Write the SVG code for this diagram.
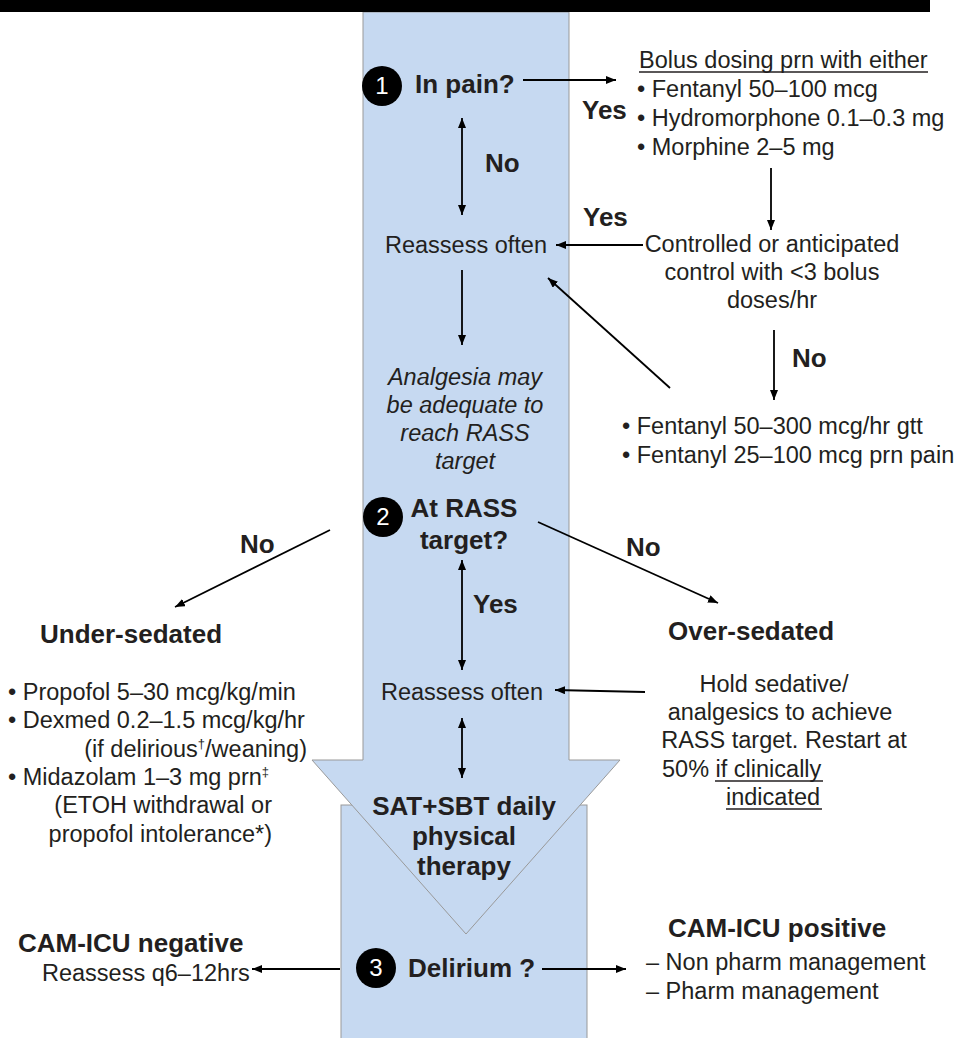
<svg xmlns="http://www.w3.org/2000/svg" width="960" height="1038" viewBox="0 0 960 1038">
<defs>
<marker id="ah" viewBox="0 0 10 8" refX="10" refY="4" markerWidth="10" markerHeight="8" markerUnits="userSpaceOnUse" orient="auto-start-reverse"><path d="M0,0 L10,4 L0,8 z" fill="#000"/></marker>
<style>
text{font-family:"Liberation Sans",Arial,sans-serif;fill:#231f20}
.r{font-size:23.5px}
.b{font-size:26px;font-weight:bold}
.i{font-size:23.5px;font-style:italic}
.m{text-anchor:middle}
.e{text-anchor:end}
.n{fill:#fff;font-size:24px;text-anchor:middle}
.c{stroke:#000;stroke-width:1.8;fill:none;marker-end:url(#ah)}
.d{marker-start:url(#ah)}
.ul{stroke:#231f20;stroke-width:1.3}
.shape{fill:#c6d9f1;stroke:#999;stroke-width:1}
.sup{font-size:13px}
</style>
</defs>
<g id="flow-arrow">
<rect class="shape" x="341" y="805" width="246" height="240"/>
<polygon class="shape" points="363,12 569,12 569,760 620,760 466,934 312,760 363,760"/>
</g>
<rect id="top-bar" x="0" y="0" width="930" height="12" fill="#000"/>
<g id="connectors">
<path class="c" d="M523,80 H616"/>
<path class="c d" d="M462,118 V215"/>
<path class="c" d="M771,168 V230"/>
<path class="c" d="M643,245 H556"/>
<path class="c" d="M670,388 L548,278"/>
<path class="c" d="M462,270 V345"/>
<path class="c" d="M774,330 V400"/>
<path class="c" d="M330,530 L175,607"/>
<path class="c" d="M538,522 L718,603"/>
<path class="c d" d="M462,560 V670"/>
<path class="c" d="M645,692 L555,690"/>
<path class="c d" d="M462,718 V778"/>
<path class="c" d="M340,969 H252"/>
<path class="c" d="M542,969 H626"/>
</g>
<g id="labels">
<text class="b" x="582" y="119">Yes</text>
<text class="b" x="485" y="172">No</text>
<text class="b" x="583" y="226">Yes</text>
<text class="b" x="792" y="367">No</text>
<text class="b" x="240" y="553">No</text>
<text class="b" x="626" y="556">No</text>
<text class="b" x="473" y="613">Yes</text>
</g>
<g id="node-pain">
<circle cx="382" cy="86" r="20" fill="#000"/>
<text class="n" x="382" y="94">1</text>
<text class="b" x="415" y="93">In pain?</text>
</g>
<g id="node-bolus">
<text class="r" x="639" y="68">Bolus dosing prn with either</text>
<line class="ul" x1="639" y1="72" x2="928" y2="72"/>
<text class="r" x="637" y="97">• Fentanyl 50–100 mcg</text>
<text class="r" x="637" y="126">• Hydromorphone 0.1–0.3 mg</text>
<text class="r" x="637" y="155">• Morphine 2–5 mg</text>
</g>
<g id="node-reassess1">
<text class="r m" x="466" y="253">Reassess often</text>
</g>
<g id="node-controlled">
<text class="r m" x="772" y="252">Controlled or anticipated</text>
<text class="r m" x="772" y="280">control with &lt;3 bolus</text>
<text class="r m" x="772" y="308">doses/hr</text>
</g>
<g id="node-analgesia">
<text class="i m" x="465" y="385">Analgesia may</text>
<text class="i m" x="465" y="413">be adequate to</text>
<text class="i m" x="465" y="441">reach RASS</text>
<text class="i m" x="465" y="469">target</text>
</g>
<g id="node-fentanyl-gtt">
<text class="r" x="622" y="434">• Fentanyl 50–300 mcg/hr gtt</text>
<text class="r" x="622" y="463">• Fentanyl 25–100 mcg prn pain</text>
</g>
<g id="node-rass">
<circle cx="383" cy="517" r="20" fill="#000"/>
<text class="n" x="383" y="525">2</text>
<text class="b m" x="464" y="517">At RASS</text>
<text class="b m" x="464" y="549">target?</text>
</g>
<g id="node-under">
<text class="b" x="40" y="643">Under-sedated</text>
<text class="r" x="8" y="700">• Propofol 5–30 mcg/kg/min</text>
<text class="r" x="8" y="728">• Dexmed 0.2–1.5 mcg/kg/hr</text>
<text class="r e" x="307" y="757">(if delirious<tspan class="sup" dy="-9">†</tspan><tspan dy="9">/weaning)</tspan></text>
<text class="r" x="8" y="785">• Midazolam 1–3 mg prn<tspan class="sup" dy="-9">‡</tspan></text>
<text class="r e" x="272" y="813">(ETOH withdrawal or</text>
<text class="r e" x="272" y="842">propofol intolerance*)</text>
</g>
<g id="node-over">
<text class="b" x="668" y="640">Over-sedated</text>
<text class="r m" x="774" y="692">Hold sedative/</text>
<text class="r m" x="780" y="720">analgesics to achieve</text>
<text class="r m" x="784" y="748">RASS target. Restart at</text>
<text class="r" x="662" y="777">50% if clinically</text>
<line class="ul" x1="715" y1="781" x2="823" y2="781"/>
<text class="r" x="726" y="805">indicated</text>
<line class="ul" x1="726" y1="809" x2="822" y2="809"/>
</g>
<g id="node-reassess2">
<text class="r m" x="462" y="700">Reassess often</text>
</g>
<g id="node-sat">
<text class="b m" x="464" y="815">SAT+SBT daily</text>
<text class="b m" x="464" y="845">physical</text>
<text class="b m" x="464" y="875">therapy</text>
</g>
<g id="node-delirium">
<circle cx="376" cy="968" r="20" fill="#000"/>
<text class="n" x="376" y="976">3</text>
<text class="b" x="408" y="977">Delirium ?</text>
</g>
<g id="node-negative">
<text class="b" x="18" y="952">CAM-ICU negative</text>
<text class="r" x="42" y="981">Reassess q6–12hrs</text>
</g>
<g id="node-positive">
<text class="b" x="668" y="937">CAM-ICU positive</text>
<text class="r" x="646" y="970">– Non pharm management</text>
<text class="r" x="646" y="999">– Pharm management</text>
</g>
</svg>
